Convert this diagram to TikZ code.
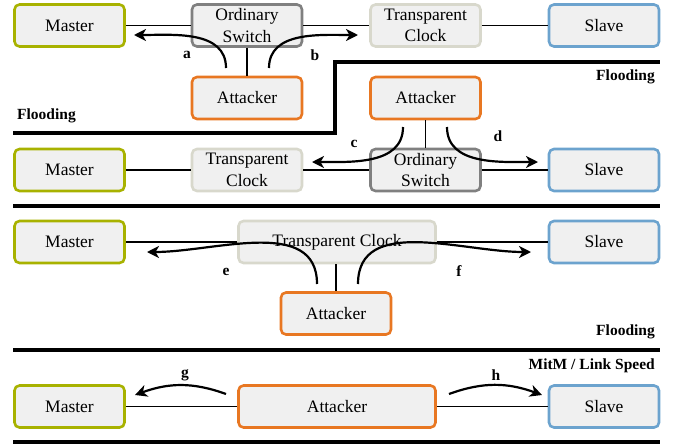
\documentclass[tikz,border=0pt]{standalone}
\usepackage{fontspec}
\setmainfont{Liberation Serif}
\usetikzlibrary{arrows.meta}
\definecolor{olivec}{RGB}{168,178,0}
\definecolor{bluec}{RGB}{108,163,206}
\definecolor{orangec}{RGB}{232,119,34}
\definecolor{grayc}{RGB}{128,128,128}
\definecolor{beigec}{RGB}{216,216,204}
\definecolor{boxfill}{RGB}{240,240,240}
\begin{document}
\begin{tikzpicture}[x=1pt,y=-1pt,
  box/.style={draw, rounded corners=5pt, line width=2.6pt, fill=boxfill,
    minimum width=110pt, minimum height=42pt, inner sep=0pt, align=center,
    font=\rmfamily\fontsize{17.5}{21.5}\selectfont},
  master/.style={box, draw=olivec},
  slave/.style={box, draw=bluec},
  attacker/.style={box, draw=orangec},
  switchbox/.style={box, draw=grayc},
  tcbox/.style={box, draw=beigec},
  wide/.style={minimum width=197pt},
  conn/.style={line width=1.3pt},
  arr/.style={line width=2.2pt, -{Stealth[length=12pt,width=12pt,inset=3.5pt]}},
  sep/.style={line width=3.2pt},
  lbl/.style={font=\rmfamily\bfseries\fontsize{15.5}{18}\selectfont, inner sep=0pt},
]
\useasboundingbox (0,0) rectangle (675,445);

% ---------- Row 1 ----------
\node[master] (m1) at (69.5,25.5) {Master};
\node[switchbox] (sw1) at (247,25.5) {Ordinary\\Switch};
\node[tcbox] (tc1) at (425.5,25.5) {Transparent\\Clock};
\node[slave] (s1) at (604,25.5) {Slave};
\node[attacker] (at1) at (247,98) {Attacker};
\draw[conn] (m1.east) -- (sw1.west);
\draw[conn] (sw1.east) -- (tc1.west);
\draw[conn] (tc1.east) -- (s1.west);
\draw[conn] (sw1.south) -- (at1.north);
\coordinate (aS) at (226,68); \coordinate (aE) at (134,35);
\coordinate (bS) at (269,68); \coordinate (bE) at (358,35);
\draw[arr] (aS) to[out=90,in=0] (aE);
\draw[arr] (bS) to[out=90,in=180] (bE);
\node[lbl] (la) at (187,55) {a};
\node[lbl] (lb) at (315,55) {b};
\node[lbl, anchor=west] (fl1) at (17,116) {Flooding};

% separator 1 (stepped)
\coordinate (p1) at (13,133); \coordinate (p2) at (335,133);
\coordinate (p3) at (335,62); \coordinate (p4) at (660,62);
\draw[sep] (p1) -- (p2) -- (p3) -- (p4);
\node[lbl, anchor=east] (fl2) at (655,77) {Flooding};

% ---------- Row 2 ----------
\node[master] (m2) at (69.5,170) {Master};
\node[tcbox] (tc2) at (247,170) {Transparent\\Clock};
\node[switchbox] (sw2) at (425.5,170) {Ordinary\\Switch};
\node[slave] (s2) at (604,170) {Slave};
\node[attacker] (at2) at (425.5,98) {Attacker};
\draw[conn] (m2.east) -- (tc2.west);
\draw[conn] (tc2.east) -- (sw2.west);
\draw[conn] (sw2.east) -- (s2.west);
\draw[conn] (at2.south) -- (sw2.north);
\coordinate (cS) at (403,127); \coordinate (cE) at (312,162);
\coordinate (dS) at (447,127); \coordinate (dE) at (538,162);
\draw[arr] (cS) to[out=-90,in=0] (cE);
\draw[arr] (dS) to[out=-90,in=180] (dE);
\node[lbl] (lc) at (354,144) {c};
\node[lbl] (ld) at (498,136) {d};

\coordinate (q1) at (13,206); \coordinate (q2) at (660,206);
\draw[sep] (q1) -- (q2);

% ---------- Row 3 ----------
\node[master] (m3) at (69.5,242) {Master};
\node[tcbox, wide] (tc3) at (337,242) {Transparent Clock};
\node[slave] (s3) at (604,242) {Slave};
\node[attacker] (at3) at (336,313.5) {Attacker};
\draw[conn] (m3.east) -- (tc3.west);
\draw[conn] (tc3.east) -- (s3.west);
\draw[conn] (tc3.south -| at3.north) -- (at3.north);
\coordinate (eS) at (317,284); \coordinate (eE) at (147,252);
\coordinate (fS) at (358,284); \coordinate (fE) at (531,252);
\draw[arr] (eS) to[out=90,in=0] (eE);
\draw[arr] (fS) to[out=90,in=180] (fE);
\node[lbl] (le) at (226,272) {e};
\node[lbl] (lf) at (459,271) {f};
\node[lbl, anchor=east] (fl3) at (655,332) {Flooding};

\coordinate (r1) at (13,350); \coordinate (r2) at (660,350);
\draw[sep] (r1) -- (r2);

% ---------- Row 4 ----------
\node[master] (m4) at (69.5,406.5) {Master};
\node[attacker, wide] (at4) at (337,406.5) {Attacker};
\node[slave] (s4) at (604,406.5) {Slave};
\draw[conn] (m4.east) -- (at4.west);
\draw[conn] (at4.east) -- (s4.west);
\coordinate (gS) at (226,394); \coordinate (gE) at (135,395);
\coordinate (hS) at (449,394); \coordinate (hE) at (542,395);
\draw[arr] (gS) to[out=160,in=20] (gE);
\draw[arr] (hS) to[out=20,in=160] (hE);
\node[lbl] (lg) at (185,375) {g};
\node[lbl] (lh) at (496,375) {h};
\node[lbl, anchor=east] (fl4) at (655,366) {MitM / Link Speed};

\coordinate (t1) at (13,442); \coordinate (t2) at (660,442);
\draw[sep] (t1) -- (t2);
\end{tikzpicture}
\end{document}
